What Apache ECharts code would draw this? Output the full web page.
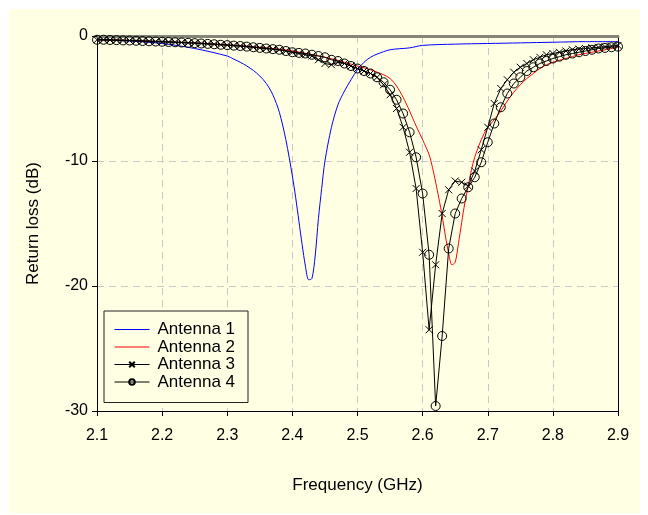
<!DOCTYPE html>
<html><head><meta charset="utf-8">
<script src="https://cdn.jsdelivr.net/npm/echarts@6/dist/echarts.min.js"></script>
<style>
html,body{margin:0;padding:0;background:#ffffff;}
#c{position:absolute;left:9px;top:9px;width:631px;height:504px;background:#FFFFE3;}
</style></head>
<body><div id="c"></div>
<script>
// Frequency grids (GHz)
var freq1 = [2.10,2.15,2.20,2.25,2.30,2.31,2.32,2.33,2.34,2.35,2.36,2.37,2.38,2.39,2.40,2.405,2.41,2.415,2.42,2.425,2.43,2.435,2.44,2.445,2.45,2.46,2.47,2.48,2.49,2.50,2.51,2.52,2.53,2.55,2.58,2.60,2.65,2.70,2.75,2.80,2.85,2.90];
var antenna1 = [-0.3,-0.4,-0.6,-1.0,-1.6,-1.85,-2.1,-2.4,-2.75,-3.2,-3.8,-4.7,-6.1,-8.3,-11.2,-12.9,-14.8,-16.7,-18.4,-19.5,-19.4,-17.6,-14.6,-12.2,-10.0,-7.3,-5.5,-4.4,-3.5,-2.7,-2.1,-1.7,-1.45,-1.1,-0.95,-0.75,-0.65,-0.6,-0.55,-0.5,-0.45,-0.45];

var freq2 = [2.10,2.15,2.20,2.25,2.30,2.35,2.40,2.45,2.48,2.50,2.52,2.54,2.55,2.56,2.57,2.58,2.59,2.60,2.61,2.615,2.62,2.625,2.63,2.635,2.64,2.645,2.65,2.655,2.66,2.665,2.67,2.675,2.68,2.69,2.70,2.71,2.72,2.73,2.74,2.75,2.76,2.77,2.78,2.79,2.80,2.82,2.84,2.86,2.88,2.90];
var antenna2 = [-0.3,-0.35,-0.45,-0.55,-0.7,-0.9,-1.2,-1.7,-2.1,-2.4,-2.7,-3.1,-3.4,-4.0,-4.9,-6.0,-7.2,-8.3,-9.5,-10.5,-11.7,-13.0,-14.4,-16.0,-17.4,-18.3,-18.1,-16.6,-14.9,-13.3,-12.0,-10.7,-9.7,-8.3,-7.3,-6.7,-6.0,-5.2,-4.5,-3.9,-3.4,-3.0,-2.6,-2.3,-2.1,-1.8,-1.5,-1.3,-1.1,-0.9];

var freq3 = [];
for (var i = 0; i <= 80; i++) freq3.push(+(2.1 + i * 0.01).toFixed(2));
var antenna3 = [-0.3,-0.3,-0.32,-0.33,-0.35,-0.36,-0.38,-0.4,-0.42,-0.44,
  -0.46,-0.48,-0.5,-0.52,-0.55,-0.57,-0.6,-0.63,-0.66,-0.7,
  -0.73,-0.77,-0.8,-0.85,-0.9,-0.95,-1.0,-1.05,-1.1,-1.2,
  -1.3,-1.4,-1.5,-1.6,-1.9,-2.2,-2.3,-2.1,-2.2,-2.4,
  -2.6,-2.8,-3.0,-3.3,-3.9,-4.7,-5.8,-7.3,-9.3,-12.2,
  -17.3,-23.5,-18.3,-14.2,-12.3,-11.6,-11.7,-12.0,-10.8,-9.1,
  -7.3,-5.4,-4.2,-3.5,-2.9,-2.5,-2.2,-1.9,-1.7,-1.5,
  -1.4,-1.3,-1.2,-1.1,-1.05,-1.0,-0.95,-0.9,-0.85,-0.8,-0.75];
var antenna4 = [-0.3,-0.3,-0.32,-0.33,-0.35,-0.36,-0.38,-0.4,-0.42,-0.44,
  -0.46,-0.48,-0.5,-0.52,-0.55,-0.57,-0.6,-0.63,-0.66,-0.7,
  -0.73,-0.77,-0.8,-0.85,-0.9,-0.95,-1.0,-1.05,-1.1,-1.2,
  -1.3,-1.35,-1.4,-1.5,-1.6,-1.7,-1.9,-2.0,-2.2,-2.4,
  -2.6,-2.8,-3.0,-3.3,-3.7,-4.3,-5.1,-6.2,-7.7,-9.7,
  -12.6,-17.5,-29.6,-24.0,-17.0,-14.2,-13.0,-12.1,-11.3,-10.1,
  -8.5,-7.0,-5.7,-4.6,-3.8,-3.3,-2.8,-2.5,-2.2,-2.0,
  -1.8,-1.65,-1.5,-1.4,-1.3,-1.2,-1.1,-1.0,-0.95,-0.9,-0.85];

var seriesNames = ['Antenna 1','Antenna 2','Antenna 3','Antenna 4'];
var seriesColors = ['#0000ff','#ff0000','#000000','#000000'];
var xTicks = {min: 2.1, max: 2.9, step: 0.1};
var yTicks = {min: -30, max: 0, step: 10};

function pairs(xs, ys){ return xs.map(function(x,i){ return [x, ys[i]]; }); }

var FONT = '"Liberation Sans", Arial, sans-serif';
var chart = echarts.init(document.getElementById('c'));
var gridDash = {color:'#c8c8c8', type:[7,5], width:1};
chart.setOption({
  animation: false,
  backgroundColor: 'transparent',
  color: seriesColors,
  textStyle: {fontFamily: FONT},
  grid: {left: 88, right: 22, top: 27, bottom: 102, containLabel: false},
  legend: {
    orient: 'vertical', left: 95, top: 302,
    backgroundColor: '#FFFFE3', borderColor: '#222', borderWidth: 1, borderRadius: 0,
    padding: [10, 13, 12, 10],
    itemWidth: 35, itemHeight: 7, itemGap: 0.5,
    textStyle: {fontFamily: FONT, fontSize: 17, lineHeight: 17, color: '#000', padding: [0,0,0,3]},
    data: seriesNames.map(function(n, k){
      return {name: n, lineStyle: {color: seriesColors[k], width: 1}};
    })
  },
  xAxis: [{
    type: 'value', min: xTicks.min, max: xTicks.max, interval: xTicks.step,
    name: 'Frequency (GHz)', nameLocation: 'middle', nameGap: 66,
    nameTextStyle: {fontFamily: FONT, fontSize: 17, color: '#000'},
    axisLine: {show: true, onZero: false, lineStyle: {color: '#000', width: 1}},
    axisTick: {show: true, inside: false, length: 5, lineStyle: {color: '#000'}},
    axisLabel: {fontFamily: FONT, fontSize: 16, color: '#000', margin: 17,
      formatter: function(v){ return v.toFixed(1); }},
    splitLine: {show: true, lineStyle: gridDash}
  }, {
    type: 'value', position: 'top', min: xTicks.min, max: xTicks.max, interval: xTicks.step,
    axisLine: {show: true, onZero: false, lineStyle: {color: '#85857a', width: 3}},
    axisTick: {show: false}, axisLabel: {show: false}, splitLine: {show: false}
  }],
  yAxis: [{
    type: 'value', min: yTicks.min, max: yTicks.max, interval: yTicks.step,
    name: 'Return loss (dB)', nameLocation: 'middle', nameGap: 55, nameRotate: 90,
    nameTextStyle: {fontFamily: FONT, fontSize: 17, color: '#000'},
    axisLine: {show: true, onZero: false, lineStyle: {color: '#000', width: 1}},
    axisTick: {show: true, inside: false, length: 5, lineStyle: {color: '#000'}},
    axisLabel: {fontFamily: FONT, fontSize: 16, color: '#000', margin: 9},
    splitLine: {show: true, lineStyle: gridDash}
  }, {
    type: 'value', position: 'right', min: yTicks.min, max: yTicks.max, interval: yTicks.step,
    axisLine: {show: true, onZero: false, lineStyle: {color: '#000', width: 1}},
    axisTick: {show: false}, axisLabel: {show: false}, splitLine: {show: false}
  }],
  series: [{
    name: seriesNames[0], type: 'line', data: pairs(freq1, antenna1),
    symbol: 'circle', showSymbol: false, smooth: 0.3,
    lineStyle: {color: seriesColors[0], width: 1},
    itemStyle: {color: 'rgba(0,0,0,0)', borderColor: 'rgba(0,0,0,0)', borderWidth: 0}, z: 2
  }, {
    name: seriesNames[1], type: 'line', data: pairs(freq2, antenna2),
    symbol: 'circle', showSymbol: false, smooth: 0.3,
    lineStyle: {color: seriesColors[1], width: 1},
    itemStyle: {color: 'rgba(0,0,0,0)', borderColor: 'rgba(0,0,0,0)', borderWidth: 0}, z: 3
  }, {
    name: seriesNames[2], type: 'line', data: pairs(freq3, antenna3),
    symbol: 'path://M0,0L10,10M0,10L10,0', symbolSize: 7, showAllSymbol: true,
    lineStyle: {color: seriesColors[2], width: 1},
    itemStyle: {color: 'rgba(0,0,0,0)', borderColor: '#000', borderWidth: 1}, z: 4
  }, {
    name: seriesNames[3], type: 'line', data: pairs(freq3, antenna4),
    symbol: 'circle', symbolSize: 9, showAllSymbol: true,
    lineStyle: {color: seriesColors[3], width: 1},
    itemStyle: {color: 'rgba(0,0,0,0)', borderColor: '#000', borderWidth: 1}, z: 5
  }]
});
</script></body></html>
